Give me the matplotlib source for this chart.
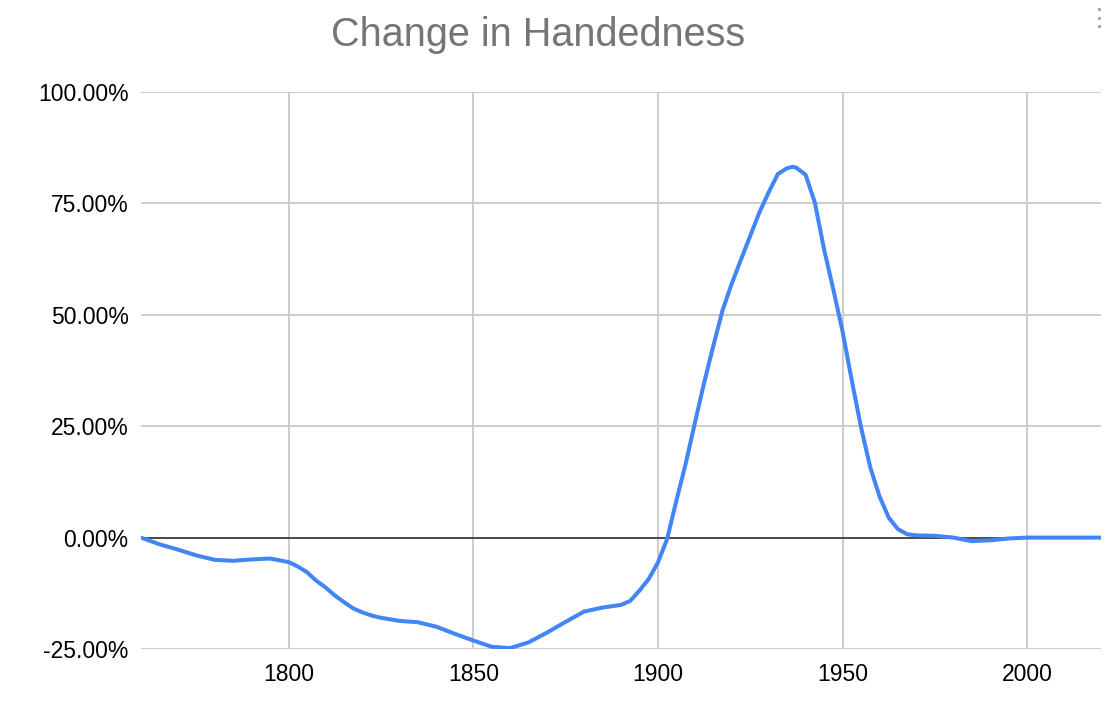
import matplotlib
matplotlib.use("Agg")
import matplotlib.pyplot as plt
from matplotlib.ticker import FuncFormatter

# values (percent change)
years = [1760, 1765, 1770, 1775, 1780, 1785, 1790, 1795, 1800, 1802.5,
         1805, 1807.5, 1810, 1812.5, 1815, 1817.5, 1820, 1822.5, 1825, 1830,
         1835, 1840, 1845, 1850, 1855, 1860, 1865, 1870, 1875, 1880,
         1885, 1890, 1892.5, 1895, 1897.5, 1900, 1902.5, 1905, 1907.5, 1910,
         1912.5, 1915, 1917.5, 1920, 1922.5, 1925, 1927.5, 1930, 1932.5, 1935,
         1936.5, 1937.5, 1940, 1942.5, 1945, 1947.5, 1950, 1952.5, 1955, 1957.5,
         1960, 1962.5, 1965, 1967.5, 1970, 1975, 1980, 1985, 1990, 1995,
         2000, 2005, 2010, 2015, 2020]
change = [0.0, -1.5, -2.7, -4.0, -5.0, -5.2, -4.9, -4.7, -5.5, -6.5,
          -7.8, -9.7, -11.2, -13.0, -14.5, -15.9, -16.8, -17.5, -18.0, -18.7,
          -19.0, -20.0, -21.6, -23.1, -24.5, -24.8, -23.5, -21.3, -18.9, -16.6,
          -15.7, -15.1, -14.2, -11.9, -9.3, -5.6, -0.3, 8.3, 16.5, 25.7,
          34.7, 43.0, 51.0, 57.0, 62.4, 67.7, 73.0, 77.5, 81.6, 82.9,
          83.2, 83.0, 81.4, 75.2, 64.7, 55.7, 46.3, 35.3, 24.8, 15.8,
          9.3, 4.5, 1.9, 0.75, 0.5, 0.4, 0.0, -0.8, -0.6, -0.2,
          0.0, 0.0, 0.0, 0.0, 0.0]

x_ticks = [1800, 1850, 1900, 1950, 2000]
y_ticks = [-25, 0, 25, 50, 75, 100]

plt.rcParams['font.family'] = ['Liberation Sans', 'DejaVu Sans']

fig = plt.figure(figsize=(11.14, 7.02), dpi=100)
ax = fig.add_axes([0.1266, 0.0755, 0.8617, 0.7935])

ax.plot(years, change, color='#4285F4', linewidth=2.9, solid_joinstyle='round',
        solid_capstyle='round', zorder=3)
ax.axhline(0, color='#333333', linewidth=1.2, zorder=2)

ax.set_xlim(1760, 2020)
ax.set_ylim(-25, 100)
ax.set_xticks(x_ticks)
ax.set_yticks(y_ticks)
ax.yaxis.set_major_formatter(FuncFormatter(lambda v, p: f"{v:.2f}%"))

ax.grid(True, color='#cccccc', linewidth=1.4, zorder=0)
ax.set_axisbelow(True)
for s in ax.spines.values():
    s.set_visible(False)
ax.tick_params(length=0, labelsize=16.5, colors='black')
ax.tick_params(axis='y', pad=9)
ax.tick_params(axis='x', pad=10)

fig.text(0.483, 0.95, "Change in Handedness", ha='center', va='center',
         fontsize=28.5, color='#757575')
fig.text(0.998, 0.99, "\u22ee", ha='right', va='top', fontsize=18,
         color='#9e9e9e', family=['DejaVu Sans'])

fig.savefig("out.png", dpi=100)
